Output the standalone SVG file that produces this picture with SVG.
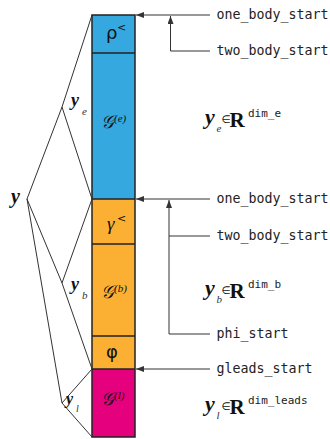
<svg xmlns="http://www.w3.org/2000/svg" width="330" height="439" viewBox="0 0 330 439">
<style>
.ln{stroke:#333;stroke-width:1;fill:none}
.seg{stroke:#222;stroke-width:1.5}
.mono{font-family:"DejaVu Sans Mono","Liberation Mono",monospace;font-size:13.3px;fill:#222}
.sup{font-family:"DejaVu Sans Mono","Liberation Mono",monospace;font-size:11px;fill:#222}
.yb{font-family:"Liberation Serif","DejaVu Serif",serif;font-weight:bold;font-style:italic;fill:#111}
.sub{font-family:"Liberation Serif","DejaVu Serif",serif;font-style:italic;fill:#333}
.R{font-family:"Liberation Serif","DejaVu Serif",serif;font-weight:bold;font-size:21px;fill:#111}
.el{font-family:"DejaVu Sans",sans-serif;font-size:10.5px;fill:#111}
.gr{font-family:"DejaVu Sans",sans-serif;fill:#111}
.gi{font-family:"Liberation Serif","DejaVu Serif",serif;font-style:italic;fill:#111}
.sc{font-family:"DejaVu Serif","DejaVu Sans","Noto Sans",serif;font-style:italic;fill:#111}
</style>
<defs>
<marker id="ah" markerWidth="8" markerHeight="6" refX="8" refY="3" orient="auto" markerUnits="userSpaceOnUse">
<path d="M0,0 L8,3 L0,6 z" fill="#333"/>
</marker>
</defs>
<g id="bar">
<rect x="92" y="15" width="43" height="38" fill="#35a8e0"/>
<rect x="92" y="53" width="43" height="146" fill="#35a8e0"/>
<rect x="92" y="199" width="43" height="45" fill="#fbb034"/>
<rect x="92" y="244" width="43" height="92" fill="#fbb034"/>
<rect x="92" y="336" width="43" height="33" fill="#fbb034"/>
<rect x="92" y="369" width="43" height="68" fill="#e5007d"/>
<rect x="92" y="15" width="43" height="422" fill="none" stroke="#222" stroke-width="1.5"/>
<line class="seg" x1="92" y1="53" x2="135" y2="53"/>
<line class="seg" x1="92" y1="199" x2="135" y2="199"/>
<line class="seg" x1="92" y1="244" x2="135" y2="244"/>
<line class="seg" x1="92" y1="336" x2="135" y2="336"/>
<line class="seg" x1="92" y1="369" x2="135" y2="369"/>
</g>
<g id="seg-rho"><text class="gr" x="106" y="39" font-size="18">ρ</text><text class="gr" x="117" y="31" font-size="11">&lt;</text></g>
<g id="seg-ge"><text class="sc" x="101" y="128" font-size="18">𝒢</text><text class="gi" x="114" y="122" font-size="11">(e)</text></g>
<g id="seg-gamma"><text class="gi" x="107" y="230" font-size="19">γ</text><text class="gr" x="117" y="222" font-size="11">&lt;</text></g>
<g id="seg-gb"><text class="sc" x="101" y="298" font-size="18">𝒢</text><text class="gi" x="114" y="292" font-size="11">(b)</text></g>
<g id="seg-phi"><text class="gr" x="106" y="358" font-size="18">φ</text></g>
<g id="seg-gl"><text class="sc" x="101" y="405" font-size="18">𝒢</text><text class="gi" x="114" y="399" font-size="11">(l)</text></g>
<g id="connectors">
<path class="ln" d="M210,15 H136" marker-end="url(#ah)"/>
<path class="ln" d="M210,51 H170.5 V16" marker-end="url(#ah)"/>
<path class="ln" d="M210,199 H136" marker-end="url(#ah)"/>
<path class="ln" d="M210,334 H169 V200" marker-end="url(#ah)"/>
<path class="ln" d="M210,236 H169"/>
<path class="ln" d="M210,369 H136" marker-end="url(#ah)"/>
<path class="ln" d="M27,199 L62,107 L92,15 M62,107 L92,199"/>
<path class="ln" d="M27,199 L62,283 L92,199 M62,283 L92,369"/>
<path class="ln" d="M27,199 L62,403 L92,369 M62,403 L92,437"/>
</g>
<g id="lbl-y"><text class="yb" x="11" y="203" font-size="20">y</text></g>
<g id="lbl-ye"><text class="yb" x="71" y="106" font-size="18">y</text><text class="sub" x="82" y="115" font-size="11">e</text></g>
<g id="lbl-yb"><text class="yb" x="71" y="290" font-size="18">y</text><text class="sub" x="82" y="299" font-size="11">b</text></g>
<g id="lbl-yl"><text class="yb" x="66" y="404" font-size="16">y</text><text class="sub" x="76" y="412" font-size="10">l</text></g>
<g id="lbl-one1"><text class="mono" x="216.5" y="19">one_body_start</text></g>
<g id="lbl-two1"><text class="mono" x="216.5" y="55">two_body_start</text></g>
<g id="lbl-one2"><text class="mono" x="216.5" y="203">one_body_start</text></g>
<g id="lbl-two2"><text class="mono" x="216.5" y="240">two_body_start</text></g>
<g id="lbl-phi"><text class="mono" x="216.5" y="338">phi_start</text></g>
<g id="lbl-gleads"><text class="mono" x="216.5" y="373">gleads_start</text></g>
<g id="dim-e"><text class="yb" x="205" y="124" font-size="22">y</text><text class="sub" x="216.5" y="132" font-size="11">e</text><text class="el" x="221.5" y="123">∈</text><text class="R" x="229.5" y="127">R</text><text class="sup" x="248" y="117">dim_e</text></g>
<g id="dim-b"><text class="yb" x="205" y="295" font-size="22">y</text><text class="sub" x="216.5" y="303" font-size="11">b</text><text class="el" x="221.5" y="294">∈</text><text class="R" x="229.5" y="298">R</text><text class="sup" x="248" y="288">dim_b</text></g>
<g id="dim-l"><text class="yb" x="205" y="411" font-size="22">y</text><text class="sub" x="216.5" y="419" font-size="11">l</text><text class="el" x="221.5" y="410">∈</text><text class="R" x="229.5" y="414">R</text><text class="sup" x="248" y="404">dim_leads</text></g>
</svg>
